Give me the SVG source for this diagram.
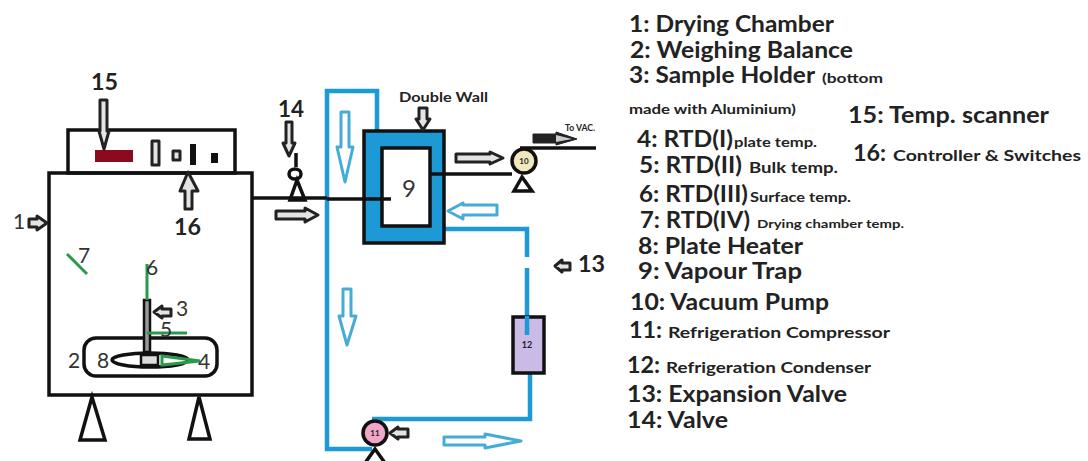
<svg xmlns="http://www.w3.org/2000/svg" width="1088" height="461" viewBox="0 0 1088 461">
<style>
text{font-family:"Lato","Liberation Sans",sans-serif;fill:#222}
.b{font-weight:700}
.l{font-weight:700;font-size:22px}
.s{font-weight:700;font-size:15.5px}
.n{font-size:21px;fill:#333}
.k{fill:none;stroke:#111;stroke-width:3.5}
.w{fill:#fff;stroke:#111;stroke-width:3.5}
.a{fill:#e4e4e4;stroke:#222;stroke-width:3;stroke-linejoin:round}
.c{fill:#fff;stroke:#45acd6;stroke-width:3;stroke-linejoin:round}
.p{fill:none;stroke:#1d9ad6;stroke-width:4.5}
.g{fill:none;stroke:#2a9a4a;stroke-width:3}
</style>
<g id="connectors">
<path class="p" d="M377 131V91H327V449H372"/>
<path class="p" d="M372 419H530V373"/>
<path class="p" d="M444 229H527V257"/>
<path class="p" d="M527 268V335"/>
<path class="k" d="M253 198H327"/>
<path class="k" d="M430 174H512"/>
<path class="k" d="M520 148H596"/>
<polygon class="a" points="276,211 305,211 305,208 318,215 305,222 305,219 276,219"/>
<polygon class="a" points="456,154 490,154 490,152 503,158 490,164 490,162 456,162"/>
<polygon points="533,134 556,134 556,132 577,139 556,145 556,143 533,143" fill="#222" stroke="#222"/>
<polygon points="556,135 572,139 556,142" fill="#ccc"/>
<polygon class="c" points="341,112 349,112 349,147 353,147 345,182 337,147 341,147"/>
<polygon class="c" points="497,205 497,215 463,215 463,219 448,211 463,203 463,205"/>
<polygon class="c" points="343,289 351,289 351,316 356,316 347,345 339,316 343,316"/>
<polygon class="c" points="444,437 485,437 485,434 521,441 485,448 485,445 444,445"/>
</g>
<g id="node-1">
<rect class="k" x="49" y="173" width="203" height="222"/>
<text class="n" x="13" y="229">1</text>
<polygon class="a" points="29,219 37,219 37,216 47,223 37,230 37,227 29,227"/>
</g>
<g id="feet">
<polygon class="k" points="92,397 80,440 105,440"/>
<polygon class="k" points="199,397 189,439 210,439"/>
</g>
<g id="node-16">
<rect class="k" x="68" y="130" width="167" height="43"/>
<rect x="152" y="141" width="7" height="24" class="a"/>
<rect x="173" y="151" width="7" height="9" class="a"/>
<rect x="190" y="144" width="6" height="21" fill="#111"/>
<rect x="211" y="153" width="7" height="10" fill="#111"/>
<polygon class="a" points="185,209 192,209 192,191 198,191 188,172 180,191 185,191"/>
<text class="b" x="174" y="235" font-size="23" textLength="27" lengthAdjust="spacingAndGlyphs">16</text>
</g>
<g id="node-15">
<rect x="95" y="150" width="38" height="12" fill="#8b0a1e"/>
<polygon class="a" points="100,100 107,100 107,131 109,131 104,149 99,131 100,131"/>
<text class="b" x="91" y="90" font-size="23" textLength="27" lengthAdjust="spacingAndGlyphs">15</text>
</g>
<g id="node-2">
<rect class="k" x="84" y="338" width="133" height="38" rx="12"/>
<text class="n" x="68" y="368">2</text>
</g>
<g id="node-8">
<ellipse class="w" cx="150" cy="360" rx="38" ry="7"/>
<text class="n" x="97" y="368">8</text>
</g>
<g id="node-3">
<rect x="144" y="300" width="6" height="52" fill="#999" stroke="#111" stroke-width="2.5"/>
<rect x="141" y="355" width="17" height="10" fill="#ddd" stroke="#111" stroke-width="2.5"/>
<polygon class="a" points="171,309 162,309 162,306 154,312 162,318 162,316 171,316"/>
<text class="n" x="176" y="316">3</text>
</g>
<g id="sensors">
<path class="g" d="M147 264V300"/>
<path class="g" d="M147 333H187"/>
<path class="g" d="M162 356L200 361L162 365Z" stroke-width="2.5"/>
<path class="g" d="M67 254L87 274"/>
<text class="n" x="78" y="263">7</text>
<text class="n" x="146" y="275">6</text>
<text class="n" x="160" y="337">5</text>
<text class="n" x="198" y="369">4</text>
</g>
<g id="node-14">
<text class="b" x="278" y="117" font-size="23" textLength="26" lengthAdjust="spacingAndGlyphs">14</text>
<polygon class="a" points="286,122 292,122 292,143 295,143 289,156 283,143 286,143"/>
<path class="k" d="M296 153V167"/>
<ellipse class="w" cx="295" cy="174" rx="6" ry="5"/>
<polygon class="k" points="297,180 290,200 305,200"/>
</g>
<g id="node-9">
<rect x="364" y="131" width="80" height="112" fill="#1d9ad6" stroke="#111" stroke-width="3.5"/>
<rect class="w" x="382" y="148" width="48" height="78"/>
<path class="k" d="M327 199H391"/>
<path class="k" d="M430 174H444"/>
<text x="402" y="197" style="font-size:24px;fill:#333">9</text>
<polygon class="a" points="419,108 427,108 427,119 430,119 423,130 416,119 419,119"/>
<text class="b" x="399" y="102" font-size="12.5" textLength="89" lengthAdjust="spacingAndGlyphs">Double Wall</text>
</g>
<g id="node-10">
<circle cx="524" cy="161" r="12" fill="#f1e8c0" stroke="#111" stroke-width="3.5"/>
<text x="524" y="164" font-size="8" text-anchor="middle" class="b">10</text>
<polygon class="k" points="522,177 514,191 532,191"/>
<text class="b" x="565" y="131" font-size="9" textLength="30" lengthAdjust="spacingAndGlyphs">To VAC.</text>
</g>
<g id="node-11">
<circle cx="375" cy="433" r="12" fill="#f0a8c8" stroke="#111" stroke-width="3.5"/>
<text x="375" y="436" font-size="8" text-anchor="middle" class="b">11</text>
<polygon class="a" points="408,429 398,429 398,427 390,433 398,439 398,437 408,437"/>
<polygon class="k" points="375,449 365,463 385,463"/>
</g>
<g id="node-12">
<rect x="513" y="317" width="31" height="56" fill="#c9bae6" stroke="#111" stroke-width="3.5"/>
<path class="p" d="M527 316V335"/>
<text x="527" y="348" font-size="9" text-anchor="middle" class="b">12</text>
</g>
<g id="node-13">
<polygon class="a" points="570,263 562,263 562,260 555,266 562,272 562,270 570,270"/>
<text class="b" x="578" y="272" font-size="23" textLength="27" lengthAdjust="spacingAndGlyphs">13</text>
</g>
<g id="legend">
<text class="l" x="629" y="32" textLength="205" lengthAdjust="spacingAndGlyphs">1: Drying Chamber</text>
<text class="l" x="630" y="58" textLength="223" lengthAdjust="spacingAndGlyphs">2: Weighing Balance</text>
<text class="l" x="629" y="83" textLength="186" lengthAdjust="spacingAndGlyphs">3: Sample Holder</text>
<text class="b" x="822" y="83" font-size="13.5" textLength="61" lengthAdjust="spacingAndGlyphs">(bottom</text>
<text class="b" x="629" y="114" font-size="13.5" textLength="167" lengthAdjust="spacingAndGlyphs">made with Aluminium)</text>
<text class="l" x="637" y="147" textLength="96" lengthAdjust="spacingAndGlyphs">4: RTD(I)</text>
<text class="b" x="734" y="147" font-size="13.5" textLength="83" lengthAdjust="spacingAndGlyphs">plate temp.</text>
<text class="l" x="639" y="173" textLength="103" lengthAdjust="spacingAndGlyphs">5: RTD(II)</text>
<text class="s" x="749" y="173" textLength="89" lengthAdjust="spacingAndGlyphs">Bulk temp.</text>
<text class="l" x="639" y="202" textLength="109" lengthAdjust="spacingAndGlyphs">6: RTD(III)</text>
<text class="b" x="750" y="202" font-size="13.5" textLength="101" lengthAdjust="spacingAndGlyphs">Surface temp.</text>
<text class="l" x="640" y="228" textLength="110" lengthAdjust="spacingAndGlyphs">7: RTD(IV)</text>
<text class="b" x="757" y="228" font-size="12" textLength="147" lengthAdjust="spacingAndGlyphs">Drying chamber temp.</text>
<text class="l" x="638" y="254" textLength="165" lengthAdjust="spacingAndGlyphs">8: Plate Heater</text>
<text class="l" x="638" y="279" textLength="164" lengthAdjust="spacingAndGlyphs">9: Vapour Trap</text>
<text class="l" x="630" y="310" textLength="199" lengthAdjust="spacingAndGlyphs">10: Vacuum Pump</text>
<text class="l" x="629" y="338" textLength="33" lengthAdjust="spacingAndGlyphs">11:</text>
<text class="s" x="668" y="338" textLength="222" lengthAdjust="spacingAndGlyphs">Refrigeration Compressor</text>
<text class="l" x="627" y="373" textLength="33" lengthAdjust="spacingAndGlyphs">12:</text>
<text class="s" x="666" y="373" textLength="205" lengthAdjust="spacingAndGlyphs">Refrigeration Condenser</text>
<text class="l" x="627" y="402" textLength="220" lengthAdjust="spacingAndGlyphs">13: Expansion Valve</text>
<text class="l" x="627" y="428" textLength="101" lengthAdjust="spacingAndGlyphs">14: Valve</text>
<text class="l" x="848" y="123" textLength="201" lengthAdjust="spacingAndGlyphs">15: Temp. scanner</text>
<text class="l" x="853" y="161" textLength="33" lengthAdjust="spacingAndGlyphs">16:</text>
<text class="s" x="893" y="161" textLength="188" lengthAdjust="spacingAndGlyphs">Controller &amp; Switches</text>
</g>
</svg>
